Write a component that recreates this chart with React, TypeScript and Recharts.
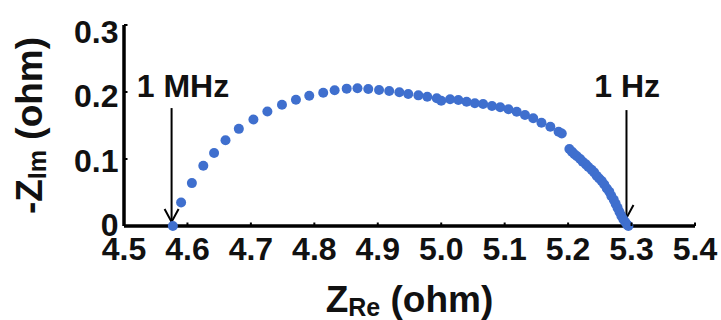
import React from 'react';
import {
  ScatterChart,
  Scatter,
  XAxis,
  YAxis,
  ReferenceLine,
  ReferenceDot,
  Label,
} from 'recharts';

// ---- Data ----
const zRe: number[] = [
  4.577, 4.590, 4.607, 4.625, 4.642, 4.660, 4.681, 4.704, 4.726, 4.749,
  4.771, 4.792, 4.814, 4.832, 4.851, 4.868, 4.885, 4.902, 4.918, 4.934,
  4.948, 4.964, 4.978, 4.993, 5.000, 5.014, 5.027, 5.040, 5.053, 5.066,
  5.080, 5.093, 5.106, 5.119, 5.132, 5.145, 5.158, 5.172, 5.185, 5.190,
  5.202, 5.206, 5.210, 5.214, 5.219, 5.223, 5.228, 5.232, 5.237, 5.241,
  5.245, 5.249, 5.253, 5.257, 5.261, 5.265, 5.268, 5.272, 5.275, 5.278,
  5.281, 5.284, 5.287, 5.290, 5.293, 5.295,
];
const zImNeg: number[] = [
  0.000, 0.035, 0.064, 0.090, 0.109, 0.128, 0.145, 0.159, 0.171, 0.181,
  0.1885, 0.1945, 0.199, 0.2025, 0.205, 0.2055, 0.2045, 0.203, 0.2015, 0.1996,
  0.197, 0.195, 0.193, 0.1906, 0.187, 0.1891, 0.188, 0.1855, 0.1831, 0.182,
  0.179, 0.1772, 0.1742, 0.1706, 0.1657, 0.1607, 0.1542, 0.1482, 0.1407, 0.138,
  0.115, 0.111, 0.107, 0.104, 0.100, 0.096, 0.092, 0.088, 0.084, 0.080,
  0.075, 0.071, 0.067, 0.062, 0.056, 0.051, 0.045, 0.039, 0.033, 0.027,
  0.021, 0.015, 0.010, 0.006, 0.002, 0.000,
];

const xTicks: number[] = [4.5, 4.6, 4.7, 4.8, 4.9, 5.0, 5.1, 5.2, 5.3, 5.4];
const xTickLabels: string[] = ['4.5', '4.6', '4.7', '4.8', '4.9', '5.0', '5.1', '5.2', '5.3', '5.4'];
const yTicks: number[] = [0, 0.1, 0.2, 0.3];
const yTickLabels: string[] = ['0', '0.1', '0.2', '0.3'];

const annotationLabels: string[] = ['1 MHz', '1 Hz'];
const annotationArrowX: number[] = [4.575, 5.292];
const annotationArrowTop: number[] = [0.176, 0.173];
const annotationArrowTip: number[] = [0.006, 0.012];
const annotationTextX: number[] = [4.593, 5.293];
const annotationTextY: number[] = [0.193, 0.193];

const points = zRe.map((x, i) => ({ x, y: zImNeg[i] }));

const FONT = '"Liberation Sans", Arial, Helvetica, sans-serif';
const DOT = '#3F6FCE';
const FRAME = { stroke: '#000', strokeWidth: 3.5 };

const XTick = (props: any) => {
  const { x, y, index } = props;
  return (
    <g>
      <line x1={x} y1={y} x2={x} y2={y - 3.5} stroke="#000" strokeWidth={2} />
      <text x={x} y={y + 34} textAnchor="middle" fontFamily={FONT} fontWeight="bold" fontSize={32} fill="#111">
        {xTickLabels[index]}
      </text>
    </g>
  );
};

const YTick = (props: any) => {
  const { x, y, index } = props;
  const center = 225 - (226.3 - y) * 0.963;
  return (
    <g>
      <line x1={x} y1={y} x2={x + 3.5} y2={y} stroke="#000" strokeWidth={2} />
      <text x={x - 5.5} y={center + 11.5} textAnchor="end" fontFamily={FONT} fontWeight="bold" fontSize={32} fill="#111">
        {yTickLabels[index]}
      </text>
    </g>
  );
};

const XTitle = (props: any) => {
  const vb = props.viewBox;
  return (
    <text x={vb.x + vb.width / 2} y={vb.y + 86} textAnchor="middle" fontFamily={FONT} fontWeight="bold" fontSize={37} fill="#111">
      Z<tspan fontSize={25} dy={4}>Re</tspan>
      <tspan dy={-4}> (ohm)</tspan>
    </text>
  );
};

const YTitle = (props: any) => {
  const vb = props.viewBox;
  const cx = 42;
  const cy = vb.y + vb.height / 2;
  return (
    <text
      x={cx}
      y={cy}
      transform={`rotate(-90, ${cx}, ${cy})`}
      textAnchor="middle"
      fontFamily={FONT}
      fontWeight="bold"
      fontSize={37}
      fill="#111"
    >
      -Z<tspan fontSize={25} dy={4}>Im</tspan>
      <tspan dy={-4}> (ohm)</tspan>
    </text>
  );
};

const ArrowShape = (props: any) => {
  const { x1, y1, x2, y2 } = props;
  const top = Math.min(y1, y2);
  const tip = Math.max(y1, y2);
  const x = x1;
  return (
    <g>
      <line x1={x} y1={top} x2={x} y2={tip} stroke="#000" strokeWidth={2} />
      <polyline
        points={`${x - 7},${tip - 13} ${x},${tip} ${x + 7},${tip - 13}`}
        fill="none"
        stroke="#000"
        strokeWidth={2}
      />
    </g>
  );
};

const makeTextShape = (text: string) => (props: any) => (
  <text x={props.cx} y={props.cy} textAnchor="middle" fontFamily={FONT} fontWeight="bold" fontSize={32} fill="#111">
    {text}
  </text>
);

const DotShape = (props: any) => <circle cx={props.cx} cy={props.cy} r={5} fill={DOT} />;

export default function App() {
  return (
    <div style={{ position: 'absolute', left: 0, top: 0, width: 721, height: 320, background: '#fff' }}>
      <ScatterChart width={721} height={320} margin={{ top: 25, right: 26, left: 0, bottom: 0 }}>
        <XAxis
          type="number"
          dataKey="x"
          domain={[4.5, 5.4]}
          ticks={xTicks}
          axisLine={FRAME}
          tickLine={false}
          tickSize={0}
          tickMargin={0}
          height={94}
          tick={<XTick />}
          interval={0}
        >
          <Label content={<XTitle />} />
        </XAxis>
        <XAxis
          xAxisId="top"
          orientation="top"
          type="number"
          dataKey="x"
          domain={[4.5, 5.4]}
          axisLine={FRAME}
          tick={false}
          tickLine={false}
          height={0}
        />
        <YAxis
          type="number"
          dataKey="y"
          domain={[0, 0.3]}
          ticks={yTicks}
          axisLine={FRAME}
          tickLine={false}
          tickSize={0}
          tickMargin={0}
          width={124}
          tick={<YTick />}
          interval={0}
        >
          <Label content={<YTitle />} />
        </YAxis>
        <YAxis
          yAxisId="right"
          orientation="right"
          type="number"
          dataKey="y"
          domain={[0, 0.3]}
          axisLine={FRAME}
          tick={false}
          tickLine={false}
          width={0}
        />
        {annotationLabels.map((label, i) => (
          <ReferenceLine
            key={`arrow-${label}`}
            segment={[
              { x: annotationArrowX[i], y: annotationArrowTop[i] },
              { x: annotationArrowX[i], y: annotationArrowTip[i] },
            ]}
            ifOverflow="visible"
            shape={<ArrowShape />}
          />
        ))}
        {annotationLabels.map((label, i) => (
          <ReferenceDot
            key={`text-${label}`}
            x={annotationTextX[i]}
            y={annotationTextY[i]}
            r={0}
            ifOverflow="visible"
            shape={makeTextShape(label)}
          />
        ))}
        <Scatter data={points} fill={DOT} isAnimationActive={false} shape={<DotShape />} />
      </ScatterChart>
    </div>
  );
}
